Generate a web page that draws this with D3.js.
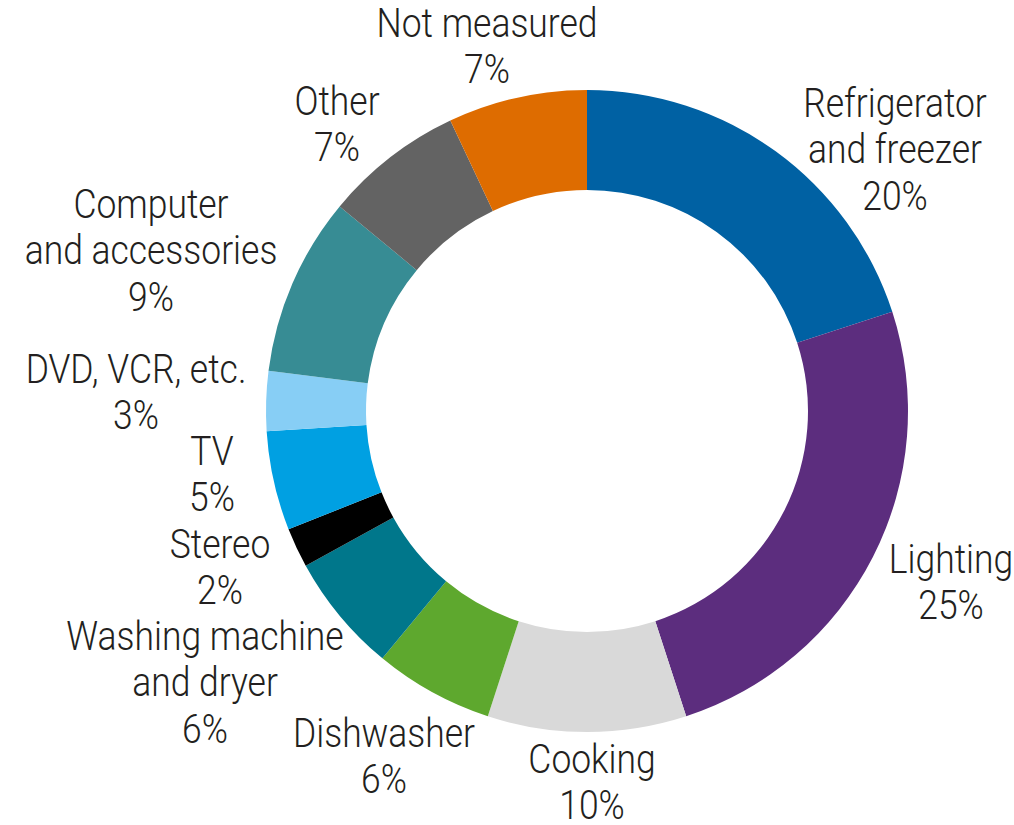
<!DOCTYPE html>
<html>
<head>
<meta charset="utf-8">
<script src="https://cdn.jsdelivr.net/npm/d3@7"></script>
<style>
  html, body { margin: 0; padding: 0; background: #fff; }
  svg { display: block; }
  text { font-family: Roboto, "Liberation Sans", sans-serif; font-weight: 300; font-size: 40px; fill: #231f20; }
</style>
</head>
<body>
<svg id="chart" width="1014" height="825"></svg>
<script>
// ---- data ----
const categories = ["Refrigerator and freezer", "Lighting", "Cooking", "Dishwasher", "Washing machine and dryer", "Stereo", "TV", "DVD, VCR, etc.", "Computer and accessories", "Other", "Not measured"];
const labelLines = [
  ["Refrigerator", "and freezer"],
  ["Lighting"],
  ["Cooking"],
  ["Dishwasher"],
  ["Washing machine", "and dryer"],
  ["Stereo"],
  ["TV"],
  ["DVD, VCR, etc."],
  ["Computer", "and accessories"],
  ["Other"],
  ["Not measured"]
];
const values = [20, 25, 10, 6, 6, 2, 5, 3, 9, 7, 7];
const colors = ["#0061a3", "#5c2d7e", "#d9d9d9", "#5ea82e", "#00778b", "#000000", "#00a0e2", "#87cef5", "#378c94", "#636363", "#de6c00"];

// ---- layout (not data) ----
const cx = 587, cy = 411, rOuter = 321, rInner = 221;
const lineGap = 46.5;
const refWidth = 221; // target rendered width of "Not measured"
// label anchor: centre x, first baseline y
const labelAnchors = [
  [895, 117], [951, 573], [592, 773], [384, 747], [205, 650], [220, 558],
  [212, 465], [136, 383], [151, 218], [337, 115], [487, 37]
];

const svg = d3.select("#chart");
const g = svg.append("g").attr("transform", `translate(${cx},${cy})`);

const pie = d3.pie().sort(null).value(d => d.value);
const arc = d3.arc().innerRadius(rInner).outerRadius(rOuter);
const color = d3.scaleOrdinal().domain(categories).range(colors);

const data = categories.map((c, i) => ({ name: c, value: values[i], lines: labelLines[i], anchor: labelAnchors[i] }));

g.selectAll("path")
  .data(pie(data))
  .join("path")
  .attr("d", arc)
  .attr("fill", d => color(d.data.name));

// measure to obtain a horizontal condensing factor
const probe = svg.append("text").text("Not measured");
const sx = refWidth / probe.node().getComputedTextLength();
probe.remove();

const labels = svg.append("g").selectAll("text")
  .data(data)
  .join("text")
  .attr("text-anchor", "middle")
  .attr("transform", d => `translate(${d.anchor[0]},${d.anchor[1]}) scale(${sx},1)`);

labels.each(function(d) {
  const t = d3.select(this);
  const lines = d.lines.concat([d.value + "%"]);
  lines.forEach((ln, j) => {
    t.append("tspan")
      .attr("x", 0)
      .attr("y", j * lineGap)
      .text(ln);
  });
});
</script>
</body>
</html>
